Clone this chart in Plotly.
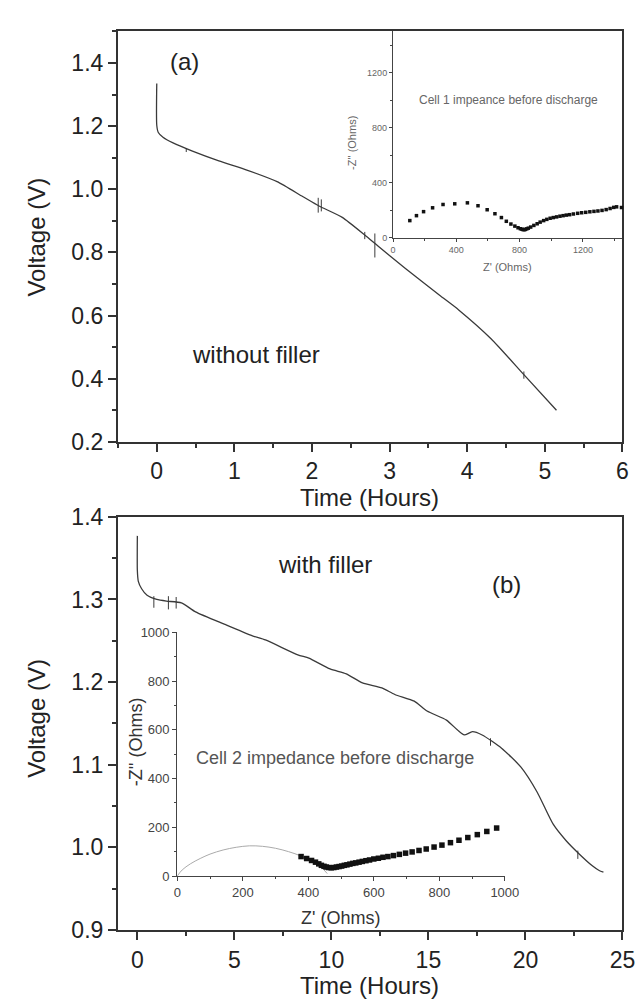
import plotly.graph_objects as go

# ---------------- data ----------------
# Panel (a): without filler
time_a = [0.0, 0.0, 0.02, 0.08, 0.21, 0.46, 0.80, 1.17, 1.55, 1.88, 2.09, 2.39, 2.68, 2.85, 3.20, 3.64, 3.89, 4.31, 4.73, 5.15]
volt_a = [1.335, 1.203, 1.180, 1.165, 1.147, 1.121, 1.090, 1.060, 1.024, 0.977, 0.947, 0.911, 0.855, 0.820, 0.750, 0.665, 0.618, 0.526, 0.413, 0.300]
spike_a_t = [0.38, 2.08, 2.12, 2.68, 2.81, 4.73]
spike_a_lo = [1.118, 0.926, 0.930, 0.842, 0.784, 0.400]
spike_a_hi = [1.130, 0.973, 0.968, 0.865, 0.860, 0.423]

# Inset (a): Cell 1 impedance
zre_a = [106, 148, 193, 250, 316, 390, 470, 537, 595, 644, 685, 716, 745, 770, 790, 805, 815, 822, 829,
         836, 845, 855, 870, 890, 911, 930, 952, 972, 993, 1013, 1034, 1055, 1075, 1095, 1116, 1140,
         1167, 1192, 1218, 1244, 1270, 1295, 1321, 1347, 1372, 1395, 1413, 1444]
zim_a = [126, 162, 191, 219, 243, 248, 255, 234, 205, 176, 148, 121, 101, 86, 74, 67, 63, 61, 60,
         62, 66, 71, 79, 91, 103, 115, 126, 135, 143, 148, 153, 158, 162, 166, 169, 174,
         179, 183, 186, 190, 193, 196, 200, 206, 214, 222, 226, 221]

# Panel (b): with filler
time_b = [0.0, 0.0, 0.05, 0.22, 0.50, 1.00, 1.50, 2.27, 3.00, 4.60, 5.93, 6.60, 8.27, 8.84, 9.93, 10.77,
          11.60, 12.60, 13.27, 14.27, 14.93, 15.93, 16.50, 16.85, 17.27, 17.77, 18.77, 19.77, 20.60,
          21.43, 22.10, 22.77, 23.43, 23.80, 24.02]
volt_b = [1.377, 1.335, 1.322, 1.313, 1.305, 1.300, 1.298, 1.296, 1.285, 1.269, 1.256, 1.251, 1.233, 1.229,
          1.216, 1.210, 1.199, 1.193, 1.185, 1.177, 1.165, 1.154, 1.142, 1.136, 1.140, 1.136, 1.120,
          1.097, 1.067, 1.028, 1.008, 0.992, 0.978, 0.972, 0.970]
spike_b_t = [0.85, 1.60, 2.00, 18.20, 22.70]
spike_b_lo = [1.290, 1.288, 1.289, 1.123, 0.986]
spike_b_hi = [1.304, 1.304, 1.303, 1.132, 0.996]

# Inset (b): Cell 2 impedance
arc_zre_b = [0, 15, 40, 70, 100, 140, 180, 220, 260, 300, 340, 378, 410, 440, 458]
arc_zim_b = [0, 25, 50, 72, 90, 107, 118, 124, 122, 114, 100, 82, 60, 35, 10]
zre_b = [378, 395, 410, 422, 432, 440, 448, 455, 462, 470, 478, 486, 494, 502, 510, 518, 527, 536, 545,
         555, 565, 576, 587, 600, 614, 628, 643, 660, 678, 697, 717, 738, 760, 784, 808, 834, 860,
         887, 916, 945, 975, 1003]
zim_b = [80, 72, 64, 57, 50, 44, 40, 37, 35, 34, 35, 37, 39, 41, 44, 46, 49, 52, 54,
         57, 60, 63, 66, 70, 73, 77, 80, 84, 89, 94, 99, 105, 111, 119, 127, 137, 147,
         158, 170, 183, 197, 213]

# ---------------- layout helpers ----------------
W, H = 644, 1008
def px(x):
    return x / W
def py(y):
    return 1 - y / H

FONT = "Liberation Sans, Arial, sans-serif"
AX = "#333333"

def segs(ts, lo, hi):
    xs, ys = [], []
    for t, a, b in zip(ts, lo, hi):
        xs += [t, t, None]
        ys += [a, b, None]
    return xs, ys

fig = go.Figure()
line_style = dict(color="#3a3a3a", width=1.3, shape="spline", smoothing=0.6)

fig.add_trace(go.Scatter(x=time_a, y=volt_a, mode="lines", line=line_style, xaxis="x", yaxis="y", showlegend=False))
sx, sy = segs(spike_a_t, spike_a_lo, spike_a_hi)
fig.add_trace(go.Scatter(x=sx, y=sy, mode="lines", line=dict(color="#3a3a3a", width=1), xaxis="x", yaxis="y", showlegend=False))

fig.add_trace(go.Scatter(x=zre_a, y=zim_a, mode="markers", marker=dict(symbol="square", size=3.5, color="#111"),
                         xaxis="x2", yaxis="y2", showlegend=False, cliponaxis=False))

fig.add_trace(go.Scatter(x=time_b, y=volt_b, mode="lines", line=line_style, xaxis="x3", yaxis="y3", showlegend=False))
sx, sy = segs(spike_b_t, spike_b_lo, spike_b_hi)
fig.add_trace(go.Scatter(x=sx, y=sy, mode="lines", line=dict(color="#3a3a3a", width=1), xaxis="x3", yaxis="y3", showlegend=False))

fig.add_trace(go.Scatter(x=arc_zre_b, y=arc_zim_b, mode="lines", line=dict(color="#aaaaaa", width=1, shape="spline"),
                         xaxis="x4", yaxis="y4", showlegend=False))
fig.add_trace(go.Scatter(x=zre_b, y=zim_b, mode="markers", marker=dict(symbol="square", size=5.5, color="#111"),
                         xaxis="x4", yaxis="y4", showlegend=False, cliponaxis=False))

main_ax = dict(showline=True, linecolor=AX, linewidth=2, mirror=True, ticks="outside", ticklen=8, tickwidth=1.5,
               tickcolor=AX, showgrid=False, zeroline=False, tickfont=dict(family=FONT, size=23, color="#222"))
inset_ax = dict(showline=True, linecolor="#444", linewidth=1.2, mirror=False, ticks="outside", tickwidth=1,
                tickcolor="#444", showgrid=False, zeroline=False)

L, R = px(109), px(628)
fig.update_layout(
    width=W, height=H, margin=dict(l=0, r=0, t=0, b=0),
    paper_bgcolor="white", plot_bgcolor="rgba(0,0,0,0)",
    xaxis=dict(main_ax, domain=[L, R], range=[-0.5, 6], anchor="y", tick0=0, dtick=1,
               minor=dict(dtick=0.5, ticklen=4, ticks="outside", tickcolor=AX)),
    yaxis=dict(main_ax, domain=[py(432), py(10.7)], range=[0.2, 1.5], anchor="x", tick0=0.2, dtick=0.2,
               tickformat=".1f", minor=dict(dtick=0.1, ticklen=4, ticks="outside", tickcolor=AX)),
    xaxis2=dict(inset_ax, domain=[px(392), R], range=[0, 1450], anchor="y2", tick0=0, dtick=400, ticklen=3,
                tickfont=dict(family=FONT, size=9, color="#666"),
                minor=dict(dtick=200, ticklen=2, ticks="outside", tickcolor="#444")),
    yaxis2=dict(inset_ax, domain=[py(222.7), py(10.7)], range=[0, 1500], anchor="x2", tick0=0, dtick=400, ticklen=3,
                tickfont=dict(family=FONT, size=9, color="#666"),
                minor=dict(dtick=200, ticklen=2, ticks="outside", tickcolor="#444")),
    xaxis3=dict(main_ax, domain=[L, R], range=[-1, 25], anchor="y3", tick0=0, dtick=5,
                minor=dict(dtick=2.5, ticklen=4, ticks="outside", tickcolor=AX)),
    yaxis3=dict(main_ax, domain=[py(933), py(509)], range=[0.9, 1.4], anchor="x3", tick0=0.9, dtick=0.1,
                tickformat=".1f", minor=dict(dtick=0.05, ticklen=4, ticks="outside", tickcolor=AX)),
    xaxis4=dict(inset_ax, domain=[px(170), px(507)], range=[0, 1000], anchor="y4", tick0=0, dtick=200, ticklen=4,
                tickfont=dict(family=FONT, size=13, color="#444"),
                minor=dict(dtick=100, ticklen=2, ticks="outside", tickcolor="#444")),
    yaxis4=dict(inset_ax, domain=[py(877.7), py(627.5)], range=[0, 1000], anchor="x4", tick0=0, dtick=200, ticklen=4,
                tickfont=dict(family=FONT, size=13, color="#444"),
                minor=dict(dtick=100, ticklen=2, ticks="outside", tickcolor="#444")),
)

def ann(text, x, y, size, color="#222", angle=0, xanchor="center"):
    return dict(text=text, x=px(x), y=py(y), xref="paper", yref="paper", showarrow=False, textangle=angle,
                xanchor=xanchor, yanchor="middle", font=dict(family=FONT, size=size, color=color))

fig.update_layout(annotations=[
    ann("Voltage (V)", 25, 222, 24, angle=-90),
    ann("Time (Hours)", 368, 489, 24),
    ann("(a)", 177, 42, 24),
    ann("without filler", 251, 342, 24),
    ann("Cell 1 impeance before discharge", 511, 81, 12, color="#666"),
    ann("-Z'' (Ohms)", 350, 125, 11, color="#666", angle=-90),
    ann("Z' (Ohms)", 510, 252, 11, color="#666"),
    ann("Voltage (V)", 25, 716, 24, angle=-90),
    ann("Time (Hours)", 368, 990, 24),
    ann("with filler", 322, 558, 24),
    ann("(b)", 509, 578, 24),
    ann("Cell 2 impedance before discharge", 332, 757, 18, color="#555"),
    ann("-Z'' (Ohms)", 127, 740, 18, color="#333", angle=-90),
    ann("Z' (Ohms)", 338, 921, 18, color="#333"),
])

fig.write_html("out.html")
